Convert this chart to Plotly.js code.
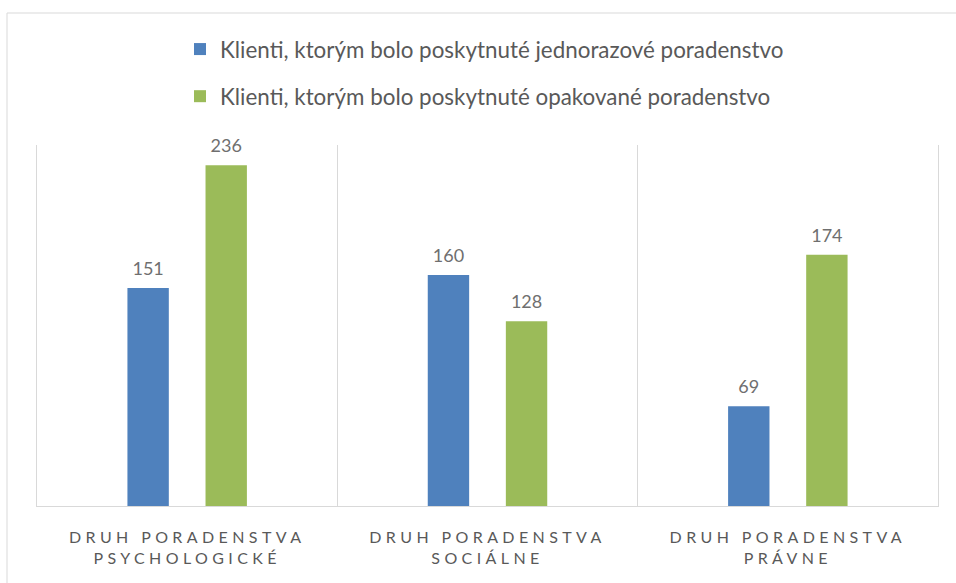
<!DOCTYPE html>
<html>
<head>
<meta charset="utf-8">
<script src="https://cdn.plot.ly/plotly-3.0.1.min.js"></script>
<style>
html,body{margin:0;padding:0;background:#fff;}
#chart{width:956px;height:583px;}
</style>
</head>
<body>
<div id="chart"></div>
<script>
const categories = [
  "DRUH PORADENSTVA<br>PSYCHOLOGICKÉ",
  "DRUH PORADENSTVA<br>SOCIÁLNE",
  "DRUH PORADENSTVA<br>PRÁVNE"
];
const seriesNames = [
  "Klienti, ktorým bolo poskytnuté jednorazové poradenstvo",
  "Klienti, ktorým bolo poskytnuté opakované poradenstvo"
];
const oneTimeValues = [151, 160, 69];
const repeatedValues = [236, 128, 174];
const seriesColors = ["#4F81BD", "#9BBB59"];

const FONT = "Lato, 'Open Sans', sans-serif";
const tickText = categories.map(c => c.split("<br>").map(s => '<span style="letter-spacing:4.4px">' + s + '</span>').join("<br>"));

const bar = (name, vals, color, grp) => ({
  type: "bar",
  name: name,
  x: categories,
  y: vals,
  legendgroup: grp,
  offsetgroup: grp,
  marker: {color: color},
  hoverinfo: "x+y+name"
});
const lbl = (vals, grp) => ({
  type: "scatter",
  mode: "markers+text",
  x: categories,
  y: vals,
  offsetgroup: grp,
  showlegend: false,
  marker: {size: 12, opacity: 0, color: "#fff"},
  text: vals.map(String),
  textposition: "top center",
  cliponaxis: false,
  textfont: {family: FONT, size: 18, color: "#6f6f6f"},
  hoverinfo: "skip"
});

const data = [
  bar(seriesNames[0], oneTimeValues, seriesColors[0], "a"),
  bar(seriesNames[1], repeatedValues, seriesColors[1], "b"),
  lbl(oneTimeValues, "a"),
  lbl(repeatedValues, "b")
];

const PW = 901, PH = 361, L = 37, B = 506;
const layout = {
  width: 956, height: 583,
  margin: {l: 37, r: 18, t: 145, b: 77},
  paper_bgcolor: "#ffffff",
  plot_bgcolor: "#ffffff",
  font: {family: FONT, color: "#595959"},
  barmode: "group",
  bargap: 0.48,
  bargroupgap: 0.47,
  scattermode: "group",
  scattergap: 0.48,
  showlegend: true,
  legend: {
    orientation: "v",
    x: (180 - L) / PW, xanchor: "left",
    y: (B - 28) / PH, yanchor: "top",
    font: {family: FONT, size: 22.4, color: "#595959"},
    tracegroupgap: 15,
    itemwidth: 30,
    bgcolor: "rgba(0,0,0,0)"
  },
  xaxis: {
    type: "category",
    tickmode: "array",
    tickvals: categories,
    ticktext: tickText,
    tickangle: 0,
    tickson: "boundaries",
    ticks: "",
    showgrid: true,
    gridcolor: "#d9d9d9",
    gridwidth: 1,
    showline: true,
    linecolor: "#d9d9d9",
    linewidth: 1,
    tickfont: {family: FONT, size: 16, color: "#595959"},
    ticklabelstandoff: 17,
    automargin: false,
    fixedrange: true
  },
  yaxis: {
    range: [0, 250],
    showticklabels: false,
    ticks: "",
    showgrid: false,
    zeroline: false,
    showline: true,
    mirror: true,
    linecolor: "#d9d9d9",
    linewidth: 1,
    automargin: false,
    fixedrange: true
  },
  shapes: [{
    type: "rect", xref: "paper", yref: "paper",
    x0: (7 - L) / PW, x1: 1.2, y0: -0.4, y1: (B - 13) / PH,
    line: {color: "#d9d9d9", width: 1},
    fillcolor: "rgba(0,0,0,0)",
    layer: "below"
  }]
};

Plotly.newPlot("chart", data, layout, {displayModeBar: false, staticPlot: true});
</script>
</body>
</html>
